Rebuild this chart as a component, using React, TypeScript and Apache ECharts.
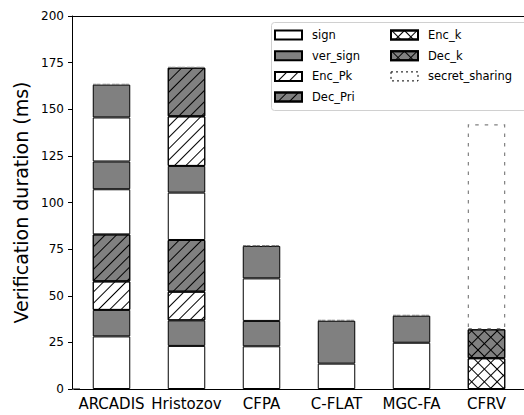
import React, { useEffect, useRef } from "react";
import * as echarts from "echarts";

const categories = ["ARCADIS", "Hristozov", "CFPA", "C-FLAT", "MGC-FA", "CFRV"];
const yTicks = [0, 25, 50, 75, 100, 125, 150, 175, 200];

// stacked layers, bottom to top (null = no segment)
const sign1 = [28.2, 23.1, 22.9, 13.6, 24.8, null];
const verSign1 = [14.2, 13.7, 13.6, 23.0, 14.5, null];
const encPk1 = [15.3, 15.4, null, null, null, null];
const decPri1 = [25.2, 27.7, null, null, null, null];
const sign2 = [24.2, 25.4, 22.8, null, null, null];
const verSign2 = [14.9, 14.3, 17.4, null, null, null];
const sign3 = [23.6, null, null, null, null, null];
const encPk2 = [null, 26.6, null, null, null, null];
const verSign3 = [17.6, null, null, null, null, null];
const decPri2 = [null, 26.1, null, null, null, null];
const encK = [null, null, null, null, null, 16.5];
const decK = [null, null, null, null, null, 15.5];
const secretSharing = [0.3, 0.3, 0.3, 0.3, 0.3, 109.9];

const FONT = "DejaVu Sans";

export default function App() {
  const ref = useRef<HTMLDivElement>(null);
  useEffect(() => {
    if (!ref.current) return;
    const chart = echarts.init(ref.current, undefined, { renderer: "svg" });

    const slash = {
      color: "#000",
      symbol: "rect",
      symbolSize: 1,
      dashArrayX: [1, 0],
      dashArrayY: [1, 7],
      rotation: -Math.PI / 4,
    };
    const cross = {
      color: "#000",
      symbol: "rect",
      symbolSize: 1,
      dashArrayX: [[9, 0], [1, 8], [1, 8], [1, 8], [1, 8], [1, 8], [1, 8], [1, 8], [1, 8]],
      dashArrayY: [1, 0],
      rotation: Math.PI / 4,
    };
    const dashed = [3.5, 6];
    const styles: Record<string, any> = {
      sign: { color: "#ffffff", borderColor: "#000", borderWidth: 1 },
      ver_sign: { color: "#808080", borderColor: "#000", borderWidth: 1 },
      Enc_Pk: { color: "#ffffff", borderColor: "#000", borderWidth: 1, decal: slash },
      Dec_Pri: { color: "#808080", borderColor: "#000", borderWidth: 1, decal: slash },
      Enc_k: { color: "#ffffff", borderColor: "#000", borderWidth: 1, decal: cross },
      Dec_k: { color: "#808080", borderColor: "#000", borderWidth: 1, decal: cross },
      secret_sharing: {
        color: "rgba(255,255,255,0)",
        borderColor: "#808080",
        borderWidth: 1.2,
        borderType: dashed,
      },
    };
    const layers: [string, (number | null)[]][] = [
      ["sign", sign1],
      ["ver_sign", verSign1],
      ["Enc_Pk", encPk1],
      ["Dec_Pri", decPri1],
      ["sign", sign2],
      ["ver_sign", verSign2],
      ["sign", sign3],
      ["Enc_Pk", encPk2],
      ["ver_sign", verSign3],
      ["Dec_Pri", decPri2],
      ["Enc_k", encK],
      ["Dec_k", decK],
      ["secret_sharing", secretSharing],
    ];
    const series = layers.map(([name, data]) => ({
      type: "bar",
      name,
      stack: "total",
      data,
      barWidth: "50%",
      itemStyle: styles[name],
      emphasis: { disabled: true },
    }));

    const legendText = { fontFamily: FONT, fontSize: 11.5, color: "#000", lineHeight: 12, padding: [0, 0, 0, 5] };
    const legendCommon = {
      orient: "vertical",
      top: 29,
      itemWidth: 27,
      itemHeight: 9,
      itemGap: 8.7,
      icon: "rect",
      selectedMode: false,
      textStyle: legendText,
      padding: 0,
      z: 10,
    };

    chart.setOption({
      animation: false,
      aria: { enabled: false, decal: { show: false } },
      grid: { left: 74, top: 16, width: 457, height: 373 },
      legend: [
        { ...legendCommon, left: 274, data: ["sign", "ver_sign", "Enc_Pk", "Dec_Pri"] },
        {
          ...legendCommon,
          left: 390,
          data: [
            "Enc_k",
            "Dec_k",
            { name: "secret_sharing", itemStyle: { borderType: [2, 3], borderColor: "#000", borderWidth: 1 } },
          ],
        },
      ],
      xAxis: {
        type: "category",
        data: categories,
        axisLine: { lineStyle: { color: "#000", width: 1 } },
        axisTick: { alignWithLabel: true, length: 4, lineStyle: { color: "#000" } },
        axisLabel: { fontFamily: FONT, fontSize: 15, color: "#000", margin: 7, interval: 0 },
      },
      yAxis: {
        type: "value",
        min: yTicks[0],
        max: yTicks[yTicks.length - 1],
        interval: 25,
        offset: 2,
        name: "Verification duration (ms)",
        nameLocation: "middle",
        nameGap: 39,
        nameTextStyle: { fontFamily: FONT, fontSize: 19, color: "#000" },
        axisLine: { show: true, lineStyle: { color: "#000", width: 1 } },
        axisTick: { show: true, length: 4, lineStyle: { color: "#000" } },
        axisLabel: { fontFamily: FONT, fontSize: 12, color: "#000", margin: 8 },
        splitLine: { show: false },
      },
      graphic: [
        {
          type: "line",
          z: 5,
          shape: { x1: 72, y1: 16.5, x2: 524, y2: 16.5 },
          style: { stroke: "#000", lineWidth: 1 },
        },
        {
          type: "line",
          z: 5,
          shape: { x1: 72, y1: 389, x2: 80, y2: 389 },
          style: { stroke: "#000", lineWidth: 1 },
        },
        {
          type: "rect",
          z: 6,
          shape: { x: 271.5, y: 22.5, width: 300, height: 88, r: 3 },
          style: { fill: "rgba(255,255,255,0.85)", stroke: "#d0d0d0", lineWidth: 1 },
        },
      ],
      series,
    });
    return () => chart.dispose();
  }, []);
  return (
    <div
      ref={ref}
      style={{ position: "fixed", left: 0, top: 0, width: 524, height: 415, background: "#fff" }}
    />
  );
}
